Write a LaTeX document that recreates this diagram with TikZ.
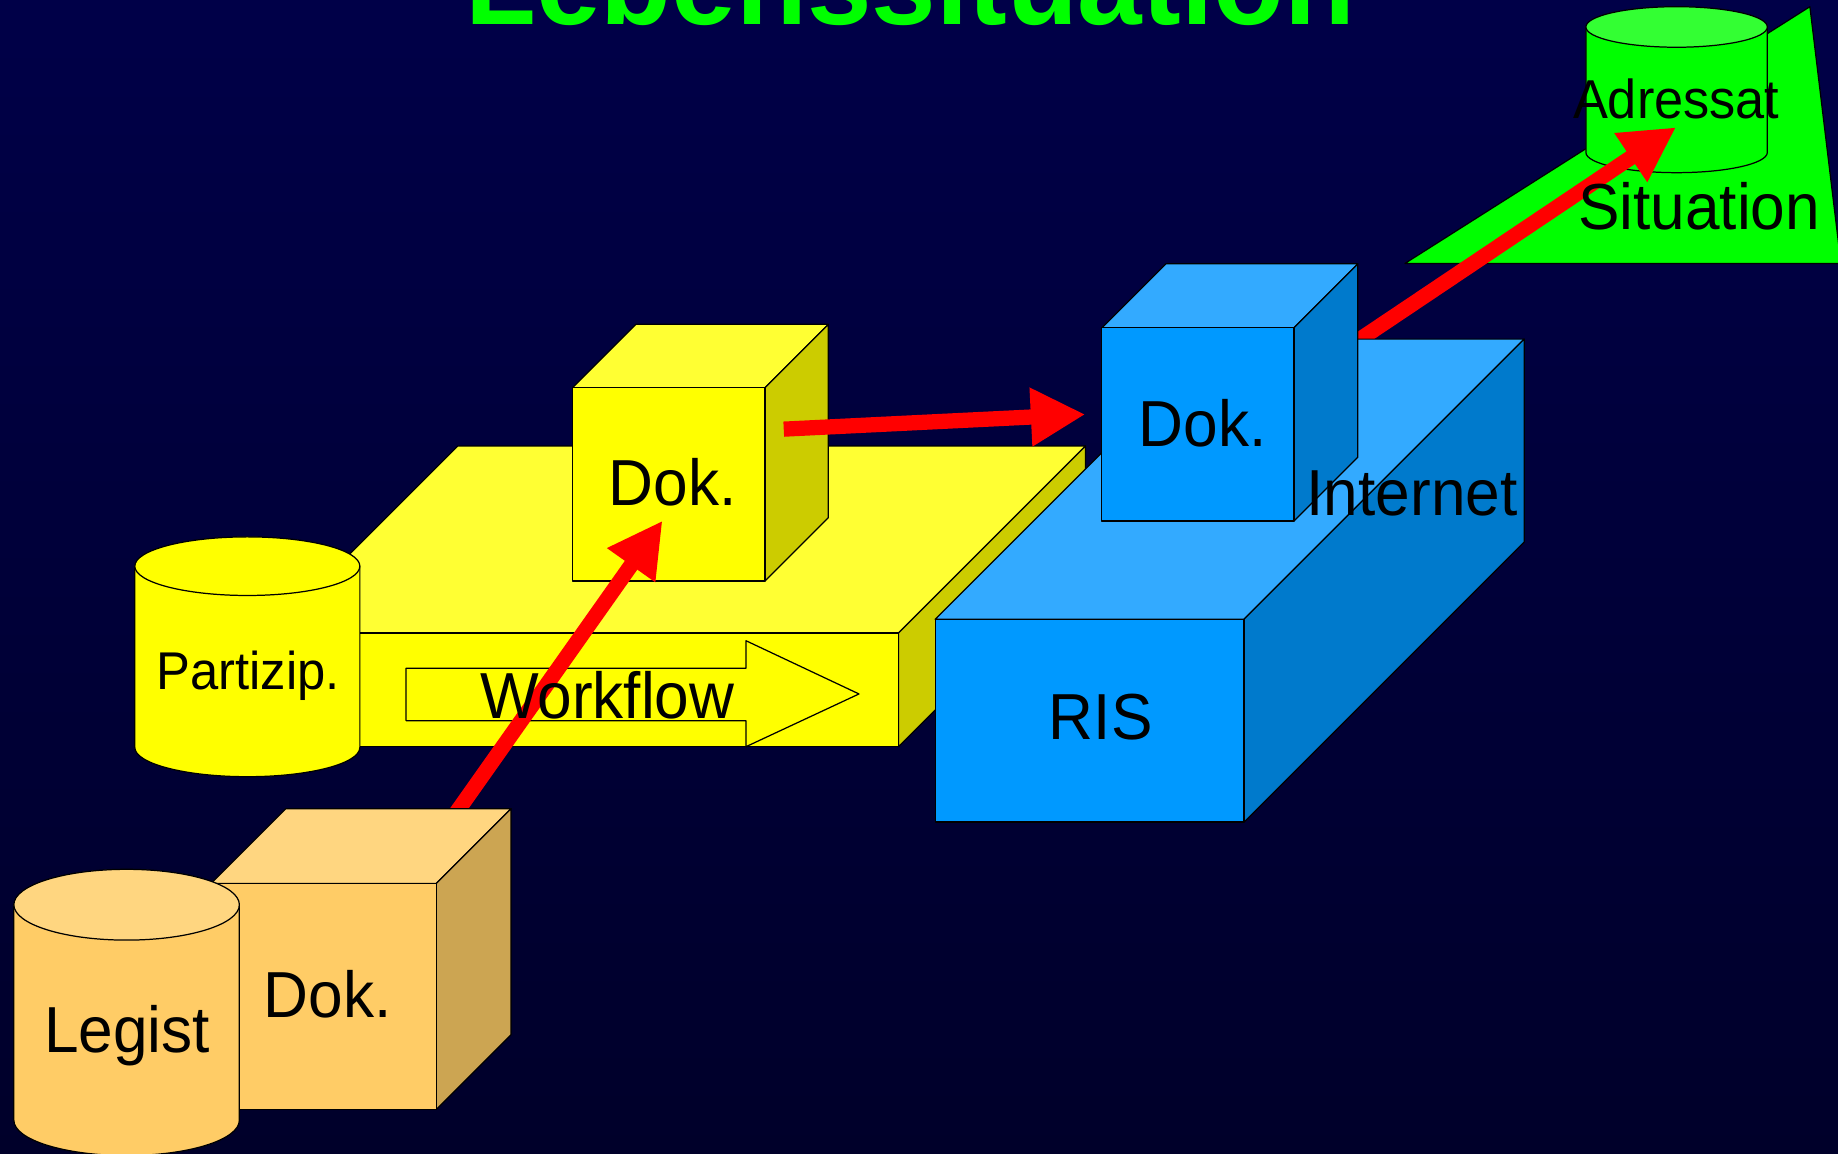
\documentclass[tikz,border=0pt]{standalone}
\usepackage{fontspec}
\setmainfont[FakeStretch=0.955]{Liberation Sans}
\usetikzlibrary{arrows.meta}
\definecolor{bgtop}{RGB}{0,0,72}
\definecolor{bgmid}{RGB}{0,0,88}
\definecolor{bgbot}{RGB}{0,0,42}
\definecolor{yeltop}{RGB}{255,255,51}
\definecolor{yelfront}{RGB}{255,255,0}
\definecolor{yelside}{RGB}{204,204,0}
\definecolor{blutop}{RGB}{51,170,255}
\definecolor{blufront}{RGB}{0,153,255}
\definecolor{bluside}{RGB}{0,122,204}
\definecolor{orgtop}{RGB}{255,214,128}
\definecolor{orgfront}{RGB}{255,204,102}
\definecolor{orgside}{RGB}{204,165,82}
\definecolor{grntop}{RGB}{51,255,51}
\definecolor{grnfront}{RGB}{0,255,0}
\definecolor{titlegreen}{RGB}{0,255,0}
\tikzset{
  edge/.style={draw=black, line width=0.6pt, line join=round},
  lbl/.style={font=\fontsize{31.6}{36}\selectfont, text=black, inner sep=0pt, anchor=base},
  smalllbl/.style={lbl, font=\fontsize{25.8}{29}\selectfont},
  midlbl/.style={lbl, font=\fontsize{26.6}{30}\selectfont},
  redarrow/.style={draw=red, line width=0.26cm, -{Triangle[length=0.93cm,width=0.94cm]}},
}
% front top-left (x1,y1), front bottom-right (x2,y2), depth, colour prefix
\newcommand{\drawcuboid}[6]{%
  \filldraw[edge, fill=#6top] (#1,#2) -- (#1+#5,#2-#5) -- (#3+#5,#2-#5) -- (#3,#2) -- cycle;
  \filldraw[edge, fill=#6side] (#3,#2) -- (#3+#5,#2-#5) -- (#3+#5,#4-#5) -- (#3,#4) -- cycle;
  \filldraw[edge, fill=#6front] (#1,#2) rectangle (#3,#4);
}
% centre x, top ellipse y, bottom ellipse y, rx, ry, body colour, top colour
\newcommand{\drawcyl}[7]{%
  \filldraw[edge, fill=#6] (#1-#4,#2) -- (#1-#4,#3) arc[start angle=180, end angle=0, x radius=#4, y radius=#5] -- (#1+#4,#2) -- cycle;
  \filldraw[edge, fill=#7] (#1,#2) ellipse[x radius=#4, y radius=#5];
}
\begin{document}
\begin{tikzpicture}[x=0.02cm, y=-0.02cm]
\useasboundingbox (0,0) rectangle (1568,984);
\shade[top color=bgtop, middle color=bgmid, bottom color=bgbot] (0,0) rectangle (1568,984);
\clip (0,0) rectangle (1568,984);

% green situation plane and Adressat cylinder
\filldraw[edge, fill=grnfront] (1198.6,224.7) -- (1544,5.7) -- (1570.5,224.7) -- cycle;
\drawcyl{1430.3}{23}{130}{77.4}{17.3}{grnfront}{grntop}

% arrow 3 (from blue Dok. to Adressat)
\coordinate (a3s) at (1129.6,310);
\coordinate (a3e) at (1429.8,108.6);
\draw[redarrow] (a3s) -- (a3e);

% yellow workflow platform and Dok. box
\drawcuboid{231}{540}{766.5}{637}{159.5}{yel}
\drawcuboid{488.5}{330.7}{652.6}{495.7}{54}{yel}
\drawcyl{211}{483}{637.6}{96}{25}{yelfront}{yelfront}
\filldraw[edge, fill=yelfront] (346.4,570) -- (636.4,570) -- (636.4,546.6) -- (732.8,592)
  -- (636.4,637) -- (636.4,614.8) -- (346.4,614.8) -- cycle;

% blue RIS and Dok. boxes
\drawcuboid{797.8}{528.3}{1061.3}{701.3}{239}{blu}
\drawcuboid{940}{279.6}{1103.8}{444.5}{54.5}{blu}

% arrow 2 (yellow Dok. to blue Dok.)
\coordinate (a2s) at (668.6,366.1);
\coordinate (a2e) at (925.9,353.5);
\draw[redarrow] (a2s) -- (a2e);

% arrow 1 (orange Dok. to yellow Dok.)
\coordinate (a1s) at (380,706.4);
\coordinate (a1e) at (565.2,444.2);
\draw[redarrow] (a1s) -- (a1e);

% orange Dok. box and Legist cylinder
\drawcuboid{180}{753.6}{372.2}{946.4}{63.7}{org}
\drawcyl{108}{771.8}{955.6}{96.2}{30.2}{orgfront}{orgtop}

% texts
\node[anchor=base, inner sep=0pt, text=titlegreen, font=\fontsize{59}{66}\selectfont\bfseries] (title) at (776.5,20.5) {Lebenssituation};
\node[lbl] (dokY) at (574,431) {Dok.};
\node[smalllbl] (partizip) at (211.6,588) {Partizip.};
\node[lbl] (workflow) at (518,612.6) {Workflow};
\node[lbl] (dokB) at (1026,380.5) {Dok.};
\node[lbl] (internet) at (1204.6,440) {Internet};
\node[lbl] (ris) at (939,630.6) {RIS};
\node[lbl] (dokO) at (279.4,867.8) {Dok.};
\node[lbl] (legist) at (108.5,898) {Legist};
\node[midlbl] (adressat) at (1430,101) {Adressat};
\node[lbl] (situation) at (1449.5,195.7) {Situation};
\end{tikzpicture}
\end{document}
